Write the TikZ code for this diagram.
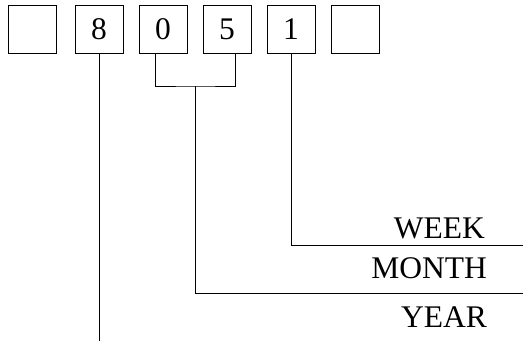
\documentclass[tikz,border=0pt]{standalone}
\usepackage{fontspec}
\setmainfont{Liberation Serif}
\begin{document}
\begin{tikzpicture}[x=1pt,y=-1pt,
  digitbox/.style={draw, line width=0.9pt, minimum width=48pt, minimum height=48pt, inner sep=0pt, font=\fontsize{31.5}{36}\selectfont},
  lbl/.style={anchor=base east, inner sep=0pt, font=\fontsize{31.5}{36}\selectfont},
  conn/.style={line width=0.9pt}]
\useasboundingbox (0,0) rectangle (523,341);
\node[digitbox] (ba) at (32,29.5) {};
\node[digitbox] (b8) at (99,29.5) {8};
\node[digitbox] (b0) at (163,29.5) {0};
\node[digitbox] (b5) at (227,29.5) {5};
\node[digitbox] (b1) at (291,29.5) {1};
\node[digitbox] (bb) at (355,29.5) {};
\node[lbl] (week) at (485,238) {WEEK};
\node[lbl] (month) at (487,278.5) {MONTH};
\node[lbl] (year) at (487,327) {YEAR};
\coordinate (j) at (195.5,86);
\coordinate (wend) at (523,245);
\coordinate (mend) at (523,293);
\coordinate (yend) at (99,341);
\draw[conn] ([xshift=-8pt]b0.south) |- (j) -| ([xshift=8pt]b5.south);
\draw[conn] (j) |- (mend);
\draw[conn] (b1.south) |- (wend);
\draw[conn] (b8.south) -- (yend);
\end{tikzpicture}
\end{document}
